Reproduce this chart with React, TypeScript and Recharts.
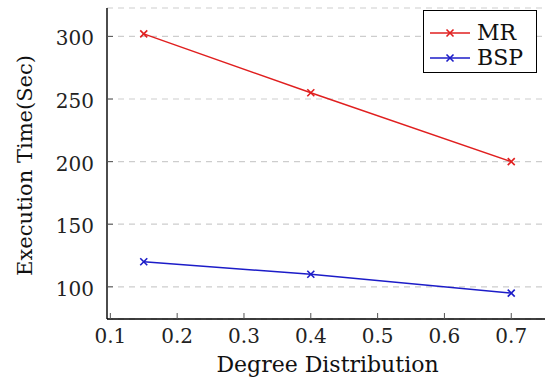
import React from 'react';
import {
  LineChart,
  Line,
  XAxis,
  YAxis,
  CartesianGrid,
  Legend,
} from 'recharts';

// degree distribution vs. execution time for the two engines
const DEGREE = [0.15, 0.4, 0.7];
const MR_TIME = [302, 255, 200];
const BSP_TIME = [120, 110, 95];

const X_TICKS = [0.1, 0.2, 0.3, 0.4, 0.5, 0.6, 0.7];
const Y_TICKS = [100, 150, 200, 250, 300];
const LEGEND_ORDER = ['MR', 'BSP'];

const COLORS = {
  mr: '#e01f1f',
  bsp: '#1c1cc8',
};

const FONT = '"DejaVu Serif", serif';

const data = DEGREE.map((d, i) => ({ degree: d, mr: MR_TIME[i], bsp: BSP_TIME[i] }));

// pgfplots-style cross marker
const Cross = ({ cx, cy, color }: { cx: number; cy: number; color: string }) => (
  <g>
    <line x1={cx - 3.5} y1={cy - 3.5} x2={cx + 3.5} y2={cy + 3.5} stroke={color} strokeWidth={1.6} />
    <line x1={cx - 3.5} y1={cy + 3.5} x2={cx + 3.5} y2={cy - 3.5} stroke={color} strokeWidth={1.6} />
  </g>
);

const crossDot = (color: string) => (props: any) => {
  const { cx, cy, index } = props;
  return <Cross key={index} cx={cx} cy={cy} color={color} />;
};

// ticks point into the plot, labels sit outside
const BottomTick = (props: any) => {
  const { x, y, payload } = props;
  return (
    <g>
      <line x1={x} y1={y} x2={x} y2={y - 6} stroke="#555" strokeWidth={1} />
      <text x={x} y={y + 24} textAnchor="middle" style={{ fontFamily: FONT, fontSize: 20 }} fill="#222">
        {Number(payload.value).toFixed(1)}
      </text>
    </g>
  );
};

const TopTick = (props: any) => {
  const { x, y } = props;
  return <line x1={x} y1={y} x2={x} y2={y + 6} stroke="#555" strokeWidth={1} />;
};

const LeftTick = (props: any) => {
  const { x, y, payload } = props;
  return (
    <g>
      <line x1={x} y1={y} x2={x + 6} y2={y} stroke="#555" strokeWidth={1} />
      <text x={x - 13} y={y + 9} textAnchor="end" style={{ fontFamily: FONT, fontSize: 20 }} fill="#222">
        {payload.value}
      </text>
    </g>
  );
};

const renderLegend = (props: any) => {
  const items = [...(props.payload || [])].sort(
    (a: any, b: any) => LEGEND_ORDER.indexOf(a.value) - LEGEND_ORDER.indexOf(b.value)
  );
  return (
    <div
      style={{
        border: '1.4px solid #000',
        background: '#fff',
        boxSizing: 'border-box',
        width: 114,
        height: 63,
        paddingTop: 9,
        paddingLeft: 6,
      }}
    >
      {items.map((entry: any) => (
        <div key={entry.value} style={{ height: 25, display: 'flex', alignItems: 'center' }}>
          <svg width={40} height={14} style={{ flex: 'none' }}>
            <line x1={0} y1={7} x2={40} y2={7} stroke={entry.color} strokeWidth={1.4} />
            <Cross cx={20} cy={7} color={entry.color} />
          </svg>
          <span
            style={{
              marginLeft: 7,
              fontFamily: FONT,
              fontSize: 22,
              color: '#111',
              lineHeight: '25px',
            }}
          >
            {entry.value}
          </span>
        </div>
      ))}
    </div>
  );
};

const App: React.FC = () => {
  return (
    <div style={{ position: 'absolute', left: 0, top: 0, width: 545, height: 378, overflow: 'hidden', background: '#fff' }}>
      <LineChart width={548} height={378} data={data} margin={{ top: 8, right: 0, bottom: 0, left: 0 }}>
        <CartesianGrid vertical={false} stroke="#cdcdcd" strokeDasharray="6 5" strokeWidth={1.2} />
        <XAxis
          dataKey="degree"
          type="number"
          domain={[0.095, 0.755]}
          ticks={X_TICKS}
          height={59}
          tickSize={0}
          tickMargin={0}
          tickLine={false}
          tick={<BottomTick />}
          axisLine={{ stroke: '#000', strokeWidth: 1.4 }}
          interval={0}
          label={{
            value: 'Degree Distribution',
            position: 'insideBottom',
            offset: 6,
            style: { fontFamily: FONT, fontSize: 22, fill: '#111' },
          }}
        />
        <XAxis
          xAxisId="top"
          dataKey="degree"
          type="number"
          orientation="top"
          domain={[0.095, 0.755]}
          ticks={X_TICKS}
          height={0}
          tickSize={0}
          tickMargin={0}
          tickLine={false}
          tick={<TopTick />}
          axisLine={{ stroke: '#000', strokeWidth: 1.4 }}
          interval={0}
        />
        <YAxis
          type="number"
          domain={[74.3, 322.7]}
          ticks={Y_TICKS}
          width={107}
          tickSize={0}
          tickMargin={0}
          tickLine={false}
          tick={<LeftTick />}
          axisLine={{ stroke: '#000', strokeWidth: 1.4 }}
          interval={0}
          label={{
            content: (p: any) => {
              const vb = p.viewBox;
              const cy = vb.y + vb.height / 2 + 2;
              return (
                <text
                  transform={`translate(32, ${cy}) rotate(-90)`}
                  textAnchor="middle"
                  style={{ fontFamily: FONT, fontSize: 21 }}
                  fill="#111"
                >
                  Execution Time(Sec)
                </text>
              );
            },
          }}
        />
        <Legend
          layout="horizontal"
          align="center"
          verticalAlign="middle"
          content={renderLegend}
          wrapperStyle={{ left: 423, top: 10, width: 114, height: 63 }}
        />
        <Line
          dataKey="mr"
          name="MR"
          stroke={COLORS.mr}
          strokeWidth={1.4}
          dot={crossDot(COLORS.mr)}
          activeDot={false}
          isAnimationActive={false}
        />
        <Line
          dataKey="bsp"
          name="BSP"
          stroke={COLORS.bsp}
          strokeWidth={1.4}
          dot={crossDot(COLORS.bsp)}
          activeDot={false}
          isAnimationActive={false}
        />
      </LineChart>
    </div>
  );
};

export default App;
